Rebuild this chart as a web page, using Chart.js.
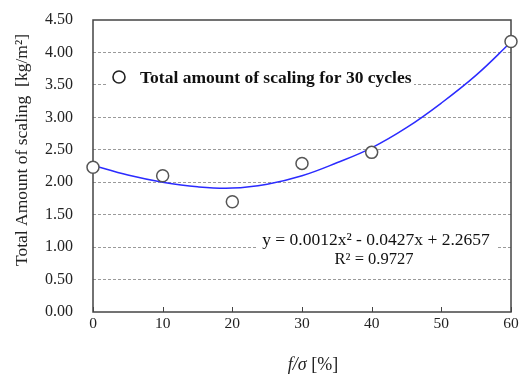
<!DOCTYPE html>
<html>
<head>
<meta charset="utf-8">
<script src="https://cdn.jsdelivr.net/npm/chart.js@4/dist/chart.umd.min.js"></script>
<style>
  html, body { margin: 0; padding: 0; background: #fff; }
  #wrap { width: 523px; height: 374px; }
</style>
</head>
<body>
<div id="wrap"><canvas id="scalingChart" width="523" height="374"></canvas></div>
<script>
// Measured points
const ratioValues = [0, 10, 20, 30, 40, 60];
const scalingValues = [2.23, 2.10, 1.70, 2.29, 2.46, 4.17];

// Polynomial trend line
const trendX = [0, 5, 10, 15, 20, 25, 30, 35, 40, 45, 50, 55, 60];
const trendY = [2.26, 2.11, 2.00, 1.93, 1.91, 1.97, 2.10, 2.30, 2.53, 2.84, 3.22, 3.65, 4.16];

const xTicks = [0, 10, 20, 30, 40, 50, 60];
const yTicks = [0, 0.5, 1, 1.5, 2, 2.5, 3, 3.5, 4, 4.5];

const seriesLabel = 'Total amount of scaling for 30 cycles';
const equationText = 'y = 0.0012x\u00B2 - 0.0427x + 2.2657';
const r2Text = 'R\u00B2 = 0.9727';
const yTitle = 'Total Amount of scaling  [kg/m\u00B2]';

const serif = '"Liberation Serif", "DejaVu Serif", serif';

// Extra drawing: frame, inner x ticks, legend box, equation, axis titles
const annotations = {
    id: 'annotations',
    beforeDatasetsDraw(chart) {
        const ctx = chart.ctx;
        const a = chart.chartArea;
        const xs = chart.scales.x;
        ctx.save();

        // legend box (covers the grid line)
        ctx.fillStyle = '#fff';
        ctx.fillRect(106, 66, 308, 24);
        ctx.beginPath();
        ctx.arc(119, 77, 6, 0, Math.PI * 2);
        ctx.lineWidth = 1.6;
        ctx.strokeStyle = '#222';
        ctx.stroke();
        ctx.fillStyle = '#111';
        ctx.font = 'bold 17.5px ' + serif;
        ctx.textBaseline = 'middle';
        ctx.textAlign = 'left';
        ctx.fillText(seriesLabel, 140, 78);

        // equation box
        ctx.fillStyle = '#fff';
        ctx.fillRect(256, 230, 240, 38);
        ctx.fillStyle = '#111';
        ctx.textAlign = 'center';
        ctx.font = '17.5px ' + serif;
        ctx.fillText(equationText, 376, 240);
        ctx.font = '16.5px ' + serif;
        ctx.fillText(r2Text, 374, 260);

        // frame
        ctx.strokeStyle = '#444';
        ctx.lineWidth = 1.5;
        ctx.strokeRect(a.left, a.top, a.right - a.left, a.bottom - a.top);

        // inward x ticks
        ctx.lineWidth = 1;
        xTicks.forEach(v => {
            const px = Math.round(xs.getPixelForValue(v)) + 0.5;
            ctx.beginPath();
            ctx.moveTo(px, a.bottom);
            ctx.lineTo(px, a.bottom - 5);
            ctx.stroke();
        });

        ctx.restore();
    },
    afterDraw(chart) {
        const ctx = chart.ctx;
        ctx.save();
        ctx.fillStyle = '#222';

        // y title
        ctx.translate(22, 150);
        ctx.rotate(-Math.PI / 2);
        ctx.font = '17.5px ' + serif;
        ctx.textAlign = 'center';
        ctx.textBaseline = 'middle';
        ctx.fillText(yTitle, 0, 0);
        ctx.setTransform(1, 0, 0, 1, 0, 0);

        // x title: italic f/σ followed by [%]
        const italic = 'italic 18px ' + serif;
        const upright = '18px ' + serif;
        ctx.font = italic;
        const w1 = ctx.measureText('f/\u03C3').width;
        ctx.font = upright;
        const w2 = ctx.measureText(' [%]').width;
        let x0 = 313 - (w1 + w2) / 2;
        ctx.textAlign = 'left';
        ctx.textBaseline = 'middle';
        ctx.font = italic;
        ctx.fillText('f/\u03C3', x0, 365);
        ctx.font = upright;
        ctx.fillText(' [%]', x0 + w1, 365);
        ctx.restore();
    }
};

const ctx = document.getElementById('scalingChart').getContext('2d');
const chart = new Chart(ctx, {
    type: 'scatter',
    data: {
        datasets: [{
            label: seriesLabel,
            data: ratioValues.map((x, i) => ({ x: x, y: scalingValues[i] })),
            pointRadius: 6,
            pointHoverRadius: 6,
            pointBorderWidth: 1.5,
            pointBorderColor: '#555',
            pointBackgroundColor: '#fff',
            showLine: false,
            clip: false,
            order: 0
        }, {
            label: 'trend',
            data: trendX.map((x, i) => ({ x: x, y: trendY[i] })),
            showLine: true,
            borderColor: '#2b2bff',
            borderWidth: 1.5,
            pointRadius: 0,
            tension: 0.4,
            fill: false,
            order: 1
        }]
    },
    options: {
        responsive: false,
        animation: false,
        events: [],
        layout: { padding: { left: 0, top: 20, right: 12, bottom: 0 } },
        plugins: {
            legend: { display: false },
            tooltip: { enabled: false }
        },
        scales: {
            x: {
                type: 'linear',
                min: 0,
                max: 60,
                afterBuildTicks: s => { s.ticks = xTicks.map(v => ({ value: v })); },
                afterFit: s => { s.height = 62; },
                grid: { display: false, drawTicks: false },
                border: { display: false },
                ticks: {
                    padding: 3,
                    color: '#222',
                    font: { family: serif, size: 15.5 }
                }
            },
            y: {
                min: 0,
                max: 4.5,
                afterBuildTicks: s => { s.ticks = yTicks.map(v => ({ value: v })); },
                afterFit: s => { s.width = 93; s.paddingTop = 0; s.paddingBottom = 0; },
                grid: {
                    drawTicks: false,
                    color: c => (c.tick && (c.tick.value === 0 || c.tick.value === 4.5)) ? 'rgba(0,0,0,0)' : '#9a9a9a',
                    lineWidth: 1
                },
                border: { display: false, dash: [3, 2] },
                ticks: {
                    padding: 20,
                    color: '#222',
                    font: { family: serif, size: 16 },
                    callback: v => v.toFixed(2)
                }
            }
        }
    },
    plugins: [annotations]
});
</script>
</body>
</html>
